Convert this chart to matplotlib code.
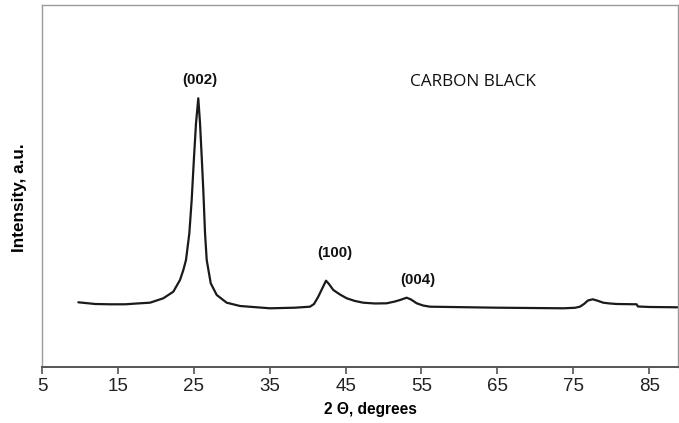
import matplotlib
matplotlib.use("Agg")
import matplotlib.pyplot as plt

# XRD pattern (2 theta in degrees, intensity in a.u.)
two_theta = [9.78, 12.0, 13.96, 15.95, 17.91, 19.23, 20.98, 22.30, 23.18, 23.62,
             23.97, 24.41, 24.72, 25.03, 25.29, 25.59, 25.82, 26.04, 26.25, 26.48,
             26.70, 27.23, 28.02, 29.33, 31.09, 35.04, 38.33, 40.31, 40.84, 41.40,
             41.89, 42.42, 42.81, 43.38, 44.26, 45.15, 46.24, 47.33, 48.87, 50.41,
             51.51, 52.17, 53.05, 53.62, 54.37, 55.20, 56.12, 64.91, 73.68, 75.22,
             75.88, 76.41, 76.94, 77.55, 78.12, 78.95, 79.83, 80.72, 83.35, 83.53,
             85.11, 88.80]
intensity = [64.7, 63.0, 62.7, 62.7, 63.7, 64.3, 68.7, 75.3, 87.0, 97.0,
             107.0, 133.7, 167.0, 210.3, 243.7, 268.7, 243.7, 210.3, 177.0, 133.7,
             107.0, 83.7, 72.0, 64.3, 61.0, 58.7, 59.3, 60.3, 63.0, 70.3,
             78.0, 86.3, 83.0, 77.0, 72.5, 68.7, 66.0, 64.3, 63.5, 63.7,
             65.5, 67.0, 69.3, 67.5, 63.7, 61.5, 60.3, 59.3, 58.7, 59.2,
             60.3, 63.0, 66.5, 67.7, 66.5, 64.3, 63.5, 63.0, 62.7, 60.5,
             60.0, 59.7]

peak_labels = ["(002)", "(100)", "(004)"]
peak_x = [25.8, 43.6, 54.5]
peak_y = [287, 114, 87]

xticks = [5, 15, 25, 35, 45, 55, 65, 75, 85]

fig = plt.figure(figsize=(6.79, 4.23), dpi=100)
ax = fig.add_axes([0.0619, 0.1324, 0.9366, 0.8558])

ax.plot(two_theta, intensity, color="#1a1a1a", lw=1.6,
        solid_joinstyle="round", solid_capstyle="round")

ax.set_xlim(5, 88.8)
ax.set_ylim(0, 362)
ax.set_xticks(xticks)
ax.set_yticks([])
ax.tick_params(axis="x", direction="out", length=5, width=1.2, color="#555555",
               pad=3, labelsize=13.5)
for lab in ax.get_xticklabels():
    lab.set_family(["Liberation Sans Narrow", "Liberation Sans", "DejaVu Sans"])
    lab.set_color("#222222")

for side in ["left", "top", "right"]:
    ax.spines[side].set_color("#9a9a9a")
    ax.spines[side].set_linewidth(1.0)
ax.spines["bottom"].set_color("#555555")
ax.spines["bottom"].set_linewidth(1.4)

for txt, x, y in zip(peak_labels, peak_x, peak_y):
    ax.text(x, y, txt, ha="center", va="center", fontsize=10.8, fontweight="bold",
            family="Liberation Sans", color="#111111")

ax.text(61.8, 285, "CARBON BLACK", ha="center", va="center", fontsize=12.4,
        family="Open Sans", color="#111111")

ax.set_xlabel("2 \u0398, degrees", fontsize=11.2, fontweight="bold",
              family="Liberation Sans")
ax.xaxis.set_label_coords(0.517, -0.097)
ax.set_ylabel("Intensity, a.u.", fontsize=12.3, fontweight="bold",
              family="Liberation Sans")
ax.yaxis.set_label_coords(-0.0236, 0.467)

fig.savefig("out.png", dpi=100)
